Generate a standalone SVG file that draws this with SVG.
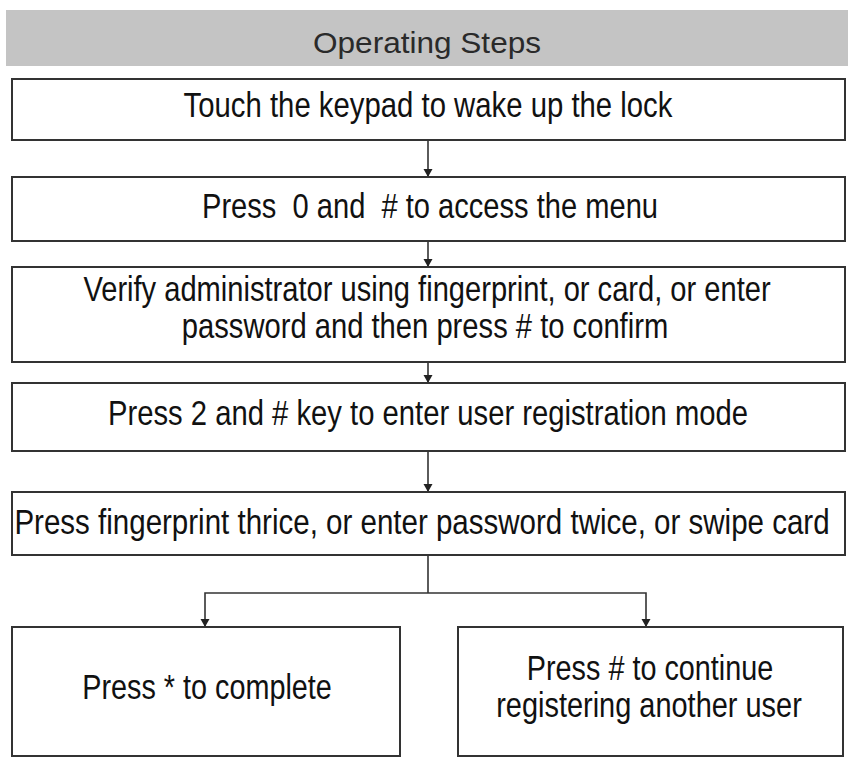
<svg xmlns="http://www.w3.org/2000/svg" width="851" height="762" viewBox="0 0 851 762">
<style>
.box{fill:#fff;stroke:#333;stroke-width:2}
.t{font-family:"Liberation Sans",Arial,sans-serif;font-size:35px;fill:#111;text-anchor:middle}
.h{font-family:"Liberation Sans",Arial,sans-serif;font-size:30px;fill:#2a2a2a;text-anchor:middle}
.c{fill:none;stroke:#333;stroke-width:1.6}
</style>
<defs>
<marker id="ah" markerWidth="10" markerHeight="10" refX="8" refY="5" orient="auto" markerUnits="userSpaceOnUse" viewBox="0 0 10 10">
<path d="M0,0.5 L8,5 L0,9.5 Z" fill="#222"/>
</marker>
</defs>
<rect width="851" height="762" fill="#fff"/>
<g id="header">
<rect x="6" y="10" width="842" height="56" fill="#c4c4c4"/>
<text class="h" transform="translate(427,53) scale(0.82,1)" textLength="278" lengthAdjust="spacingAndGlyphs">Operating Steps</text>
</g>
<g id="connectors">
<path class="c" d="M428,140 V177" marker-end="url(#ah)"/>
<path class="c" d="M428,241 V267" marker-end="url(#ah)"/>
<path class="c" d="M428,362 V383" marker-end="url(#ah)"/>
<path class="c" d="M428,451 V492" marker-end="url(#ah)"/>
<path class="c" d="M428,555 V593"/>
<path class="c" d="M428,593 H205 V627" marker-end="url(#ah)"/>
<path class="c" d="M428,593 H646 V627" marker-end="url(#ah)"/>
</g>
<g id="step1">
<rect class="box" x="12" y="79" width="833" height="61"/>
<text class="t" transform="translate(428,117) scale(0.8,1)" textLength="611" lengthAdjust="spacingAndGlyphs">Touch the keypad to wake up the lock</text>
</g>
<g id="step2">
<rect class="box" x="12" y="177" width="833" height="64"/>
<text class="t" transform="translate(430,218) scale(0.8,1)" textLength="570" lengthAdjust="spacingAndGlyphs" xml:space="preserve">Press  0 and  # to access the menu</text>
</g>
<g id="step3">
<rect class="box" x="12" y="267" width="833" height="95"/>
<text class="t" transform="translate(427,301) scale(0.8,1)" textLength="859" lengthAdjust="spacingAndGlyphs">Verify administrator using fingerprint, or card, or enter</text>
<text class="t" transform="translate(425,338) scale(0.8,1)" textLength="608" lengthAdjust="spacingAndGlyphs">password and then press # to confirm</text>
</g>
<g id="step4">
<rect class="box" x="12" y="383" width="833" height="68"/>
<text class="t" transform="translate(428,425) scale(0.8,1)" textLength="800" lengthAdjust="spacingAndGlyphs">Press 2 and # key to enter user registration mode</text>
</g>
<g id="step5">
<rect class="box" x="12" y="492" width="833" height="63"/>
<text class="t" transform="translate(422,534) scale(0.8,1)" textLength="1019" lengthAdjust="spacingAndGlyphs">Press fingerprint thrice, or enter password twice, or swipe card</text>
</g>
<g id="complete">
<rect class="box" x="12" y="627" width="388" height="129"/>
<text class="t" transform="translate(207,699) scale(0.8,1)" textLength="312" lengthAdjust="spacingAndGlyphs">Press * to complete</text>
</g>
<g id="continue">
<rect class="box" x="458" y="627" width="385" height="129"/>
<text class="t" transform="translate(650,680) scale(0.8,1)" textLength="308" lengthAdjust="spacingAndGlyphs">Press # to continue</text>
<text class="t" transform="translate(649,717) scale(0.8,1)" textLength="382" lengthAdjust="spacingAndGlyphs">registering another user</text>
</g>
</svg>
